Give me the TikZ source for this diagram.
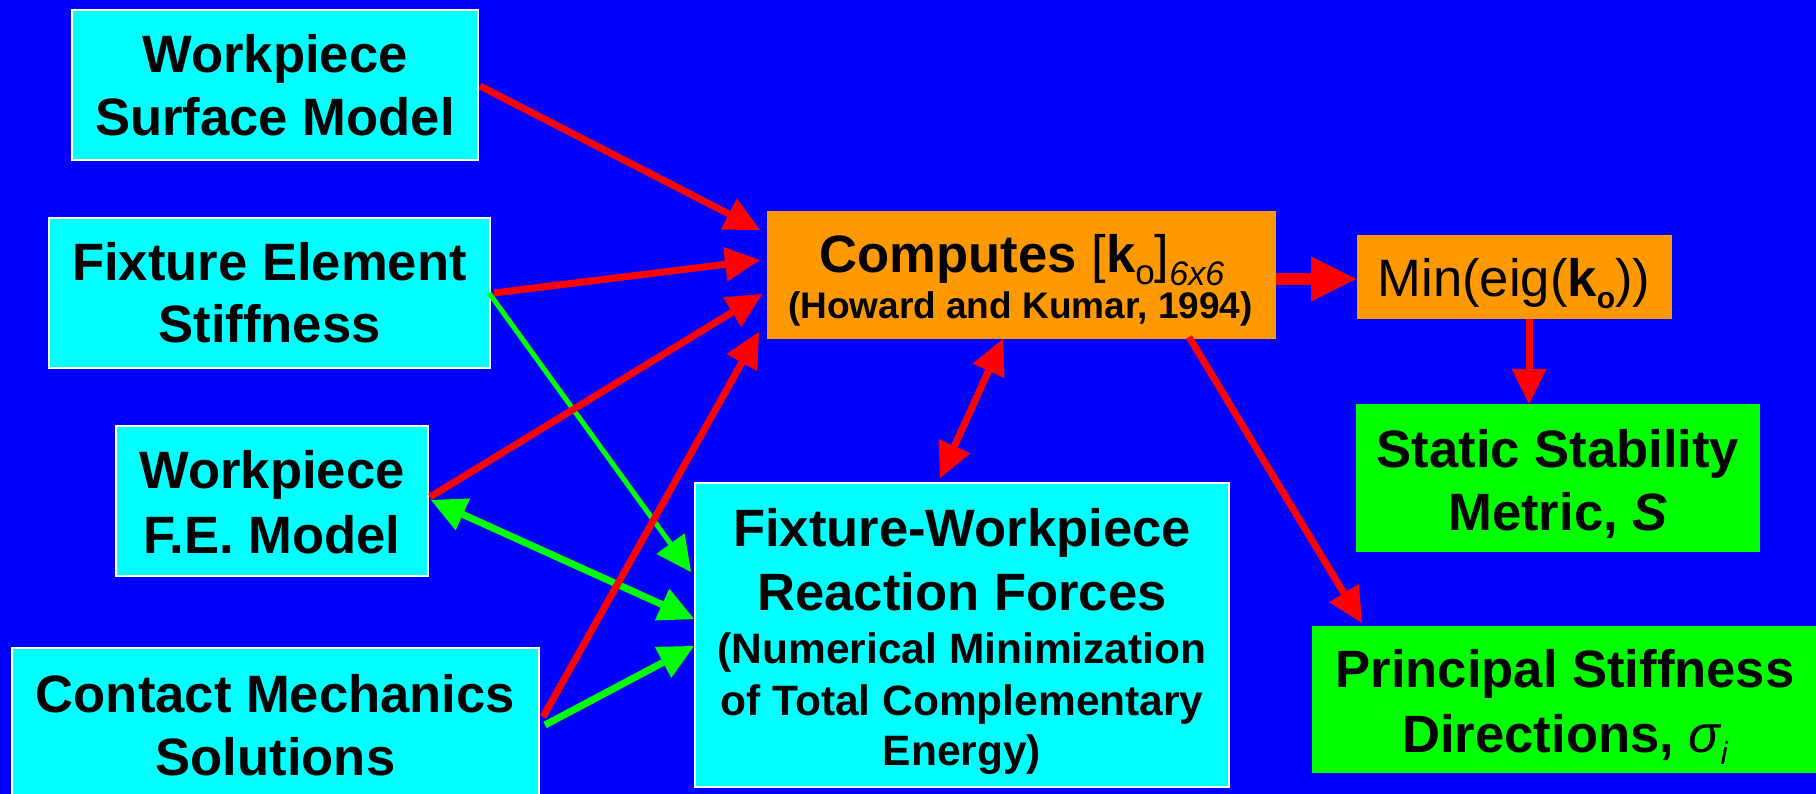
\documentclass[tikz,border=0pt]{standalone}
\usepackage{fontspec}
\setmainfont{Liberation Sans}
\usetikzlibrary{arrows.meta,calc}
\definecolor{bgblue}{HTML}{0000FF}
\definecolor{boxcyan}{HTML}{00FFFF}
\definecolor{boxorange}{HTML}{FF9900}
\definecolor{boxgreen}{HTML}{00FF00}
\definecolor{arrred}{HTML}{FF0000}
\begin{document}
\begin{tikzpicture}[x=1pt,y=-1pt,
  cbox/.style={fill=boxcyan, draw=white, line width=2pt, inner sep=0pt, outer sep=0pt},
  obox/.style={fill=boxorange, inner sep=0pt, outer sep=0pt},
  gbox/.style={fill=boxgreen, inner sep=0pt, outer sep=0pt},
  big/.style={font=\fontsize{52.6pt}{63pt}\selectfont\bfseries, anchor=base, inner sep=0pt},
  mid/.style={font=\fontsize{42.5pt}{51pt}\selectfont\bfseries, anchor=base, inner sep=0pt},
  small/.style={font=\fontsize{37pt}{44pt}\selectfont\bfseries, anchor=base, inner sep=0pt},
  rtip/.tip={Triangle[length=35pt,width=35pt,line width=0pt]},
  rarrow/.style={draw=arrred, line width=7pt, -rtip},
  rarrowd/.style={draw=arrred, line width=7pt, rtip-rtip},
  garrow/.style={draw=boxgreen, line width=7pt, -rtip},
  garrowd/.style={draw=boxgreen, line width=7pt, rtip-rtip}
]
\useasboundingbox (0,0) rectangle (1816,794);
\fill[bgblue] (0,0) rectangle (1816,794);

% boxes
\node[cbox, minimum width=406pt, minimum height=150pt] (ws) at (275,85) {};
\node[cbox, minimum width=441pt, minimum height=150pt] (fe) at (269.5,293) {};
\node[cbox, minimum width=312pt, minimum height=150pt] (fem) at (272,501) {};
\node[cbox, minimum width=527pt, minimum height=153pt] (cm) at (275.5,724.5) {};
\node[obox, minimum width=509pt, minimum height=128pt] (comp) at (1021.5,275) {};
\node[obox, minimum width=315pt, minimum height=84pt] (mn) at (1514.5,277) {};
\node[gbox, minimum width=404pt, minimum height=148pt] (ss) at (1558,478) {};
\node[gbox, minimum width=506pt, minimum height=147pt] (ps) at (1565,699.5) {};
\node[cbox, minimum width=534pt, minimum height=304pt] (rf) at (962,635) {};

% texts
\node[big] (ws1) at (275,73) {Workpiece};
\node[big] (ws2) at (275,136) {Surface Model};
\node[big] (fe1) at (269.5,281) {Fixture Element};
\node[big] (fe2) at (269.5,343) {Stiffness};
\node[big] (fem1) at (272,488) {Workpiece};
\node[big] (fem2) at (272,553) {F.E. Model};
\node[big] (cm1) at (275.5,712) {Contact Mechanics};
\node[big] (cm2) at (275.5,775) {Solutions};
\node[big] (comp1) at (1022,273) {Computes {\mdseries[}k{\mdseries\raisebox{-12pt}{\fontsize{35pt}{35pt}\selectfont o}]}\raisebox{-13pt}{\fontsize{34pt}{34pt}\selectfont\mdseries\itshape 6x6}};
\node[small] (comp2) at (1020.5,319) {(Howard and Kumar, 1994)};
\node[big] (mn1) at (1514,297) {\mdseries Min(eig(\textbf{k}\raisebox{-12pt}{\fontsize{30pt}{30pt}\selectfont\bfseries o}))};
\node[big] (ss1) at (1558,467) {Static Stability};
\node[big] (ss2) at (1558,530) {Metric, \textit{S}};
\node[big] (ps1) at (1565,687) {Principal Stiffness};
\node[big] (ps2) at (1565,752) {Directions, {\mdseries\itshape σ}\raisebox{-12pt}{\fontsize{32pt}{32pt}\selectfont\mdseries\itshape i}};
\node[big] (rf1) at (962,546) {Fixture-Workpiece};
\node[big] (rf2) at (962,610) {Reaction Forces};
\node[mid] (rf3) at (962,663) {(Numerical Minimization};
\node[mid] (rf4) at (962,715) {of Total Complementary};
\node[mid] (rf5) at (962,765) {Energy)};

% green connectors
\draw[garrow, line width=5pt] ($(fe.east)+(-1,0)$) -- ($(rf.west)+(-4,-63)$);
\draw[garrowd] ($(fem.east)+(3,-1)$) -- ($(rf.west)+(-1,-16)$);
\draw[garrow] ($(cm.east)+(6,0.5)$) -- ($(rf.west)+(-1,11)$);

% red connectors
\draw[rarrow] ($(ws.east)+(2,1)$) -- ($(comp.north west)+(-7,19)$);
\draw[rarrow] ($(fe.east)+(4,0)$) -- ($(comp.west)+(-7,-15)$);
\draw[rarrow] ($(fem.east)+(2,-4)$) -- ($(comp.west)+(-5,19)$);
\draw[rarrow] ($(cm.east)+(4,-7.5)$) -- ($(comp.south west)+(-8,-7)$);
\draw[rarrow, line width=12pt, -{Triangle[length=45pt,width=45pt,line width=0pt]}] ($(comp.east)+(0,4)$) -- ($(mn.west)+(-1,2)$);
\draw[rarrow] ($(mn.south)+(14.5,0)$) -- ($(ss.north)+(-29,0)$);
\draw[rarrow] ($(comp.south)+(167.5,-2)$) -- ($(ps.north west)+(50,-3)$);
\draw[rarrowd] ($(comp.south)+(-18.5,0)$) -- ($(rf.north)+(-22,-5)$);
\end{tikzpicture}
\end{document}
